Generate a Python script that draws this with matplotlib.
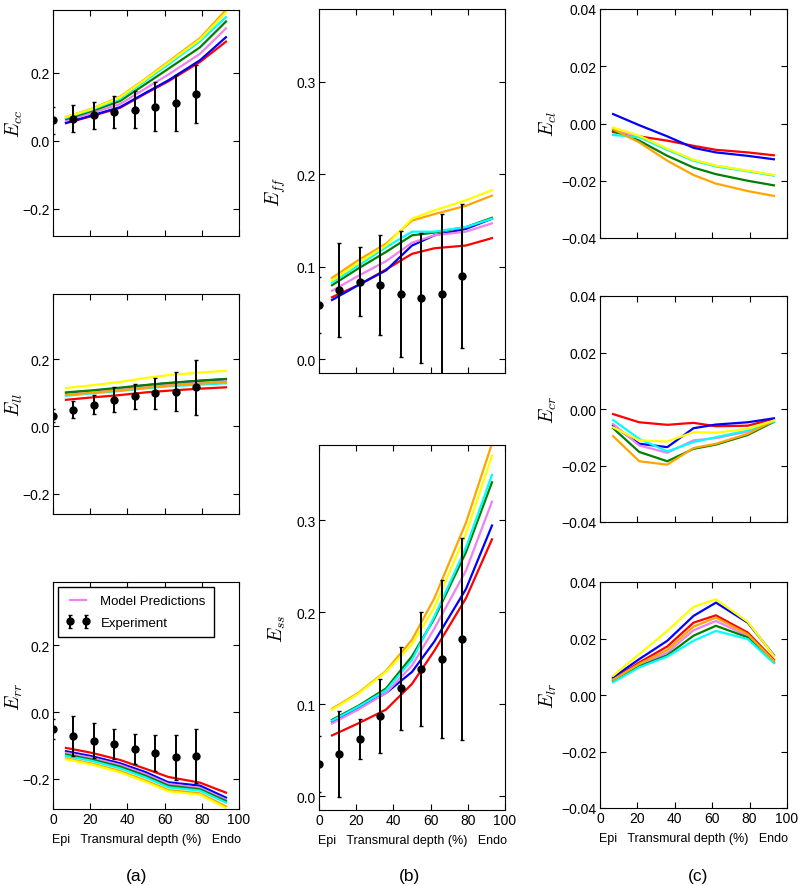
import numpy as np
import matplotlib
matplotlib.use('Agg')
import matplotlib.pyplot as plt

plt.rcParams['font.family'] = ['Liberation Sans', 'DejaVu Sans']
plt.rcParams['mathtext.fontset'] = 'cm'
plt.rcParams['font.size'] = 9.5

# depth positions (%)
x_model = [7, 21, 36, 50, 62, 79, 93]
x_exp = [0, 11, 22, 33, 44, 55, 66, 77]

colors = ['red', 'blue', 'violet', 'green', 'cyan', 'orange', 'yellow']

# model predictions, one row per colour above
ecc_model = [[0.052, 0.073, 0.097, 0.140, 0.175, 0.232, 0.292],
             [0.053, 0.075, 0.099, 0.142, 0.178, 0.237, 0.305],
             [0.060, 0.082, 0.108, 0.155, 0.195, 0.256, 0.331],
             [0.064, 0.088, 0.117, 0.168, 0.212, 0.275, 0.351],
             [0.068, 0.092, 0.124, 0.178, 0.225, 0.293, 0.364],
             [0.070, 0.095, 0.130, 0.184, 0.233, 0.302, 0.385],
             [0.070, 0.094, 0.128, 0.182, 0.230, 0.298, 0.378]]
ell_model = [[0.079, 0.086, 0.093, 0.101, 0.106, 0.112, 0.116],
             [0.098, 0.105, 0.113, 0.122, 0.128, 0.135, 0.140],
             [0.095, 0.102, 0.110, 0.118, 0.124, 0.130, 0.134],
             [0.101, 0.107, 0.115, 0.123, 0.129, 0.136, 0.141],
             [0.091, 0.098, 0.105, 0.113, 0.119, 0.124, 0.128],
             [0.093, 0.100, 0.107, 0.115, 0.121, 0.127, 0.131],
             [0.114, 0.122, 0.132, 0.144, 0.152, 0.160, 0.165]]
err_model = [[-0.107, -0.122, -0.143, -0.170, -0.194, -0.211, -0.241],
             [-0.117, -0.132, -0.153, -0.180, -0.210, -0.220, -0.256],
             [-0.122, -0.137, -0.158, -0.186, -0.215, -0.227, -0.262],
             [-0.127, -0.142, -0.163, -0.191, -0.220, -0.231, -0.266],
             [-0.131, -0.146, -0.168, -0.196, -0.225, -0.235, -0.271],
             [-0.138, -0.154, -0.176, -0.205, -0.233, -0.243, -0.282],
             [-0.141, -0.157, -0.180, -0.209, -0.237, -0.247, -0.287]]
eff_model = [[0.067, 0.080, 0.097, 0.114, 0.120, 0.123, 0.131],
             [0.064, 0.080, 0.096, 0.123, 0.134, 0.141, 0.152],
             [0.074, 0.090, 0.106, 0.126, 0.134, 0.138, 0.147],
             [0.080, 0.098, 0.116, 0.134, 0.137, 0.143, 0.153],
             [0.083, 0.101, 0.121, 0.138, 0.138, 0.143, 0.152],
             [0.088, 0.107, 0.125, 0.150, 0.157, 0.166, 0.177],
             [0.085, 0.104, 0.123, 0.152, 0.161, 0.172, 0.183]]
ess_model = [[0.066, 0.079, 0.094, 0.122, 0.158, 0.215, 0.279],
             [0.081, 0.096, 0.112, 0.135, 0.168, 0.225, 0.294],
             [0.079, 0.094, 0.112, 0.142, 0.182, 0.245, 0.320],
             [0.083, 0.098, 0.117, 0.152, 0.193, 0.265, 0.341],
             [0.082, 0.097, 0.115, 0.148, 0.195, 0.270, 0.349],
             [0.095, 0.112, 0.136, 0.170, 0.215, 0.297, 0.383],
             [0.094, 0.111, 0.135, 0.165, 0.205, 0.285, 0.370]]
ecl_model = [[-0.0030, -0.0045, -0.0060, -0.0078, -0.0092, -0.0101, -0.0111],
             [0.0033, -0.0006, -0.0045, -0.0085, -0.0101, -0.0113, -0.0125],
             [-0.0025, -0.0045, -0.0090, -0.0128, -0.0148, -0.0166, -0.0181],
             [-0.0026, -0.0060, -0.0113, -0.0154, -0.0177, -0.0200, -0.0216],
             [-0.0040, -0.0048, -0.0092, -0.0130, -0.0150, -0.0167, -0.0182],
             [-0.0020, -0.0066, -0.0130, -0.0180, -0.0210, -0.0236, -0.0253],
             [-0.0014, -0.0043, -0.0088, -0.0127, -0.0147, -0.0165, -0.0180]]
ecr_model = [[-0.0018, -0.0047, -0.0056, -0.0049, -0.0061, -0.0059, -0.0035],
             [-0.0059, -0.0123, -0.0135, -0.0068, -0.0055, -0.0047, -0.0033],
             [-0.0053, -0.0129, -0.0155, -0.0111, -0.0103, -0.0080, -0.0047],
             [-0.0068, -0.0152, -0.0185, -0.0141, -0.0126, -0.0092, -0.0045],
             [-0.0039, -0.0106, -0.0150, -0.0117, -0.0100, -0.0076, -0.0045],
             [-0.0096, -0.0185, -0.0197, -0.0138, -0.0123, -0.0088, -0.0041],
             [-0.0065, -0.0111, -0.0115, -0.0082, -0.0084, -0.0070, -0.0041]]
elr_model = [[0.0056, 0.0115, 0.0172, 0.0256, 0.0282, 0.0221, 0.0125],
             [0.0062, 0.0127, 0.0192, 0.0280, 0.0327, 0.0256, 0.0141],
             [0.0050, 0.0106, 0.0150, 0.0229, 0.0262, 0.0209, 0.0118],
             [0.0050, 0.0101, 0.0141, 0.0210, 0.0245, 0.0204, 0.0115],
             [0.0045, 0.0098, 0.0136, 0.0192, 0.0227, 0.0198, 0.0113],
             [0.0054, 0.0110, 0.0160, 0.0242, 0.0274, 0.0215, 0.0121],
             [0.0068, 0.0145, 0.0227, 0.0312, 0.0339, 0.0259, 0.0139]]

# experiment, mean and std
ecc_exp = [0.060, 0.065, 0.075, 0.084, 0.092, 0.101, 0.112, 0.137]
ecc_sd = [0.040, 0.039, 0.039, 0.047, 0.055, 0.072, 0.082, 0.085]
ell_exp = [0.032, 0.050, 0.065, 0.079, 0.089, 0.098, 0.103, 0.116]
ell_sd = [0.020, 0.024, 0.027, 0.037, 0.038, 0.045, 0.058, 0.081]
err_exp = [-0.050, -0.070, -0.085, -0.095, -0.111, -0.122, -0.135, -0.131]
err_sd = [0.030, 0.060, 0.052, 0.044, 0.045, 0.055, 0.067, 0.082]
eff_exp = [0.0585, 0.075, 0.084, 0.080, 0.0705, 0.066, 0.0705, 0.0896]
eff_sd = [0.030, 0.051, 0.037, 0.054, 0.068, 0.070, 0.087, 0.078]
ess_exp = [0.035, 0.046, 0.062, 0.087, 0.117, 0.138, 0.149, 0.171]
ess_sd = [0.030, 0.047, 0.022, 0.040, 0.045, 0.062, 0.086, 0.110]

W, H = 800., 887.
fig = plt.figure(figsize=(8, 8.87), dpi=100)

def box(l, t, r, b):
    return [l/W, 1-b/H, (r-l)/W, (b-t)/H]

def panel(pos, model, label, ylim, yticks, labx, exp=None, sd=None, xlab=False):
    ax = fig.add_axes(box(*pos))
    for c, y in zip(colors, model):
        ax.plot(x_model, y, color=c, lw=1.6, label='Model Predictions' if c == 'violet' else None)
    if exp is not None:
        ax.errorbar(x_exp, exp, yerr=sd, fmt='o', color='k', ms=5,
                    elinewidth=1.4, capsize=1.5, label='Experiment')
    ax.set_xlim(0, 100)
    ax.set_ylim(*ylim)
    ax.set_yticks(yticks)
    ax.set_xticks([0, 20, 40, 60, 80, 100])
    ax.tick_params(direction='in', top=True, right=True, length=4, labelsize=10, pad=2.5)
    ax.set_ylabel(label, fontsize=14)
    ax.yaxis.set_label_coords(labx, 0.5)
    if xlab:
        ax.set_xlabel('Epi   Transmural depth (%)   Endo', fontsize=9, labelpad=5)
    else:
        ax.set_xticklabels([])
    return ax

panel((53, 11, 239, 237), ecc_model, r'$E_{cc}$', (-0.28, 0.385), [-0.2, 0.0, 0.2], -0.15, ecc_exp, ecc_sd)
panel((53, 295, 239, 515), ell_model, r'$E_{ll}$', (-0.26, 0.393), [-0.2, 0.0, 0.2], -0.15, ell_exp, ell_sd)
ax = panel((53, 583, 239, 810), err_model, r'$E_{rr}$', (-0.29, 0.39), [-0.2, 0.0, 0.2], -0.15,
           err_exp, err_sd, xlab=True)
ax.legend(loc='upper left', numpoints=2, fontsize=9.5, fancybox=False, edgecolor='k',
          framealpha=1, borderaxespad=0.4, labelspacing=0.7, borderpad=0.6, handlelength=1.8)

panel((319, 10, 505, 374), eff_model, r'$E_{ff}$', (-0.015, 0.379), [0.0, 0.1, 0.2, 0.3], -0.165,
      eff_exp, eff_sd)
panel((319, 446, 505, 811), ess_model, r'$E_{ss}$', (-0.015, 0.3815), [0.0, 0.1, 0.2, 0.3], -0.165,
      ess_exp, ess_sd, xlab=True)

cticks = [-0.04, -0.02, 0.0, 0.02, 0.04]
for pos, m, lab, xl in [((600, 10, 787, 239), ecl_model, r'$E_{cl}$', False),
                        ((600, 297, 787, 523), ecr_model, r'$E_{cr}$', False),
                        ((600, 583, 787, 809), elr_model, r'$E_{lr}$', True)]:
    a = panel(pos, m, lab, (-0.04, 0.04), cticks, -0.22, xlab=xl)
    a.set_yticklabels(['%.2f' % t if t >= 0 else '\u2212%.2f' % -t for t in cticks])

fig.text(137/W, 1-877/H, '(a)', ha='center', va='center', fontsize=12.5)
fig.text(410/W, 1-877/H, '(b)', ha='center', va='center', fontsize=12.5)
fig.text(698/W, 1-877/H, '(c)', ha='center', va='center', fontsize=12.5)

fig.savefig('out.png', dpi=100)
